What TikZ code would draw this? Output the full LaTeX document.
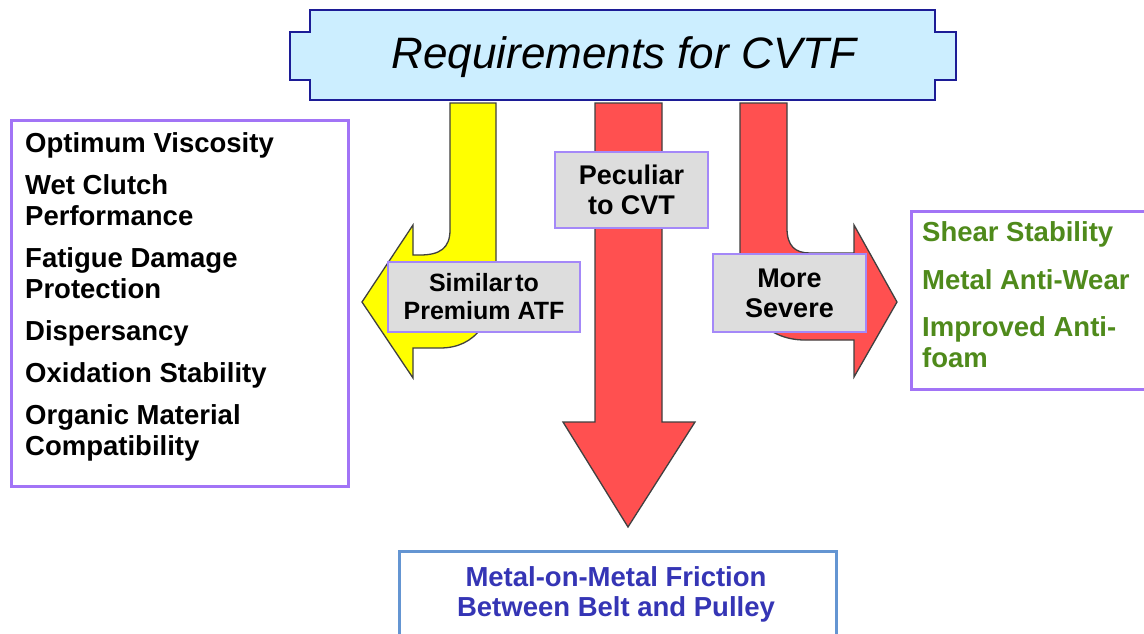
\documentclass[tikz,border=0pt]{standalone}
\usepackage{fontspec}
\setmainfont{Liberation Sans}
\usepackage{xcolor}
\usetikzlibrary{positioning, calc}

\definecolor{titlefill}{HTML}{CCEEFF}
\definecolor{titleline}{HTML}{1C1C96}
\definecolor{arrred}{HTML}{FF5050}
\definecolor{arryel}{HTML}{FFFF00}
\definecolor{lblgray}{HTML}{DDDDDD}
\definecolor{lilac}{HTML}{A488F8}
\definecolor{boxpurple}{HTML}{A274F6}
\definecolor{leafgreen}{HTML}{4F8A1B}
\definecolor{steel}{HTML}{6495D2}
\definecolor{inkblue}{HTML}{3535B5}

\begin{document}
\begin{tikzpicture}[x=1pt, y=-1pt,
  blk/.style={draw=black!75, line width=1.3pt, line join=miter},
  lbl/.style={rectangle, draw=lilac, line width=1.5pt, fill=lblgray,
              align=center, inner sep=0pt,
              font=\fontsize{27}{30}\selectfont\bfseries},
  grp/.style={rectangle, draw=boxpurple, line width=3pt, fill=white,
              inner sep=0pt},
  items/.style={align=left, inner sep=0pt, anchor=north west,
                font=\fontsize{27.5}{31}\selectfont\bfseries}
]

\useasboundingbox (0,0) rectangle (1144,633);
\clip (0,0) rectangle (1144,633);
\fill[white] (0,0) rectangle (1144,633);

%% ---- Side lists ----
\node[grp, minimum width=337pt, minimum height=366pt] (atfbox) at (180,303.5) {};
\node[items] (atflist) at (25,132) {Optimum Viscosity\\[11pt]
  Wet Clutch\\Performance\\[11pt]
  Fatigue Damage\\Protection\\[11pt]
  Dispersancy\\[11pt]
  Oxidation Stability\\[11pt]
  Organic Material\\Compatibility};

\node[grp, minimum width=260pt, minimum height=178pt, anchor=north west] (cvtbox) at (909.5,209.5) {};
\node[items, text=leafgreen] (cvtlist) at (922,221) {Shear Stability\\[17pt]
  Metal Anti-Wear\\[16pt]
  Improved Anti-\\foam};

%% ---- Block arrows ----
% left: yellow, bends to the ATF list
\draw[blk, fill=arryel] (450,103) -- (496,103) -- (496,268)
  .. controls (496,322) and (475,348) .. (440,348) -- (413,348)
  -- (413,378) -- (362,302) -- (413,225) -- (413,255) -- (420,255)
  .. controls (440,255) and (450,248) .. (450,230) -- cycle;

% middle: straight down to the friction box
\draw[blk, fill=arrred] (595,103) -- (662,103) -- (662,422) -- (695,422)
  -- (628,527) -- (563,422) -- (595,422) -- cycle;

% right: red, bends to the CVT list
\draw[blk, fill=arrred] (740,103) -- (787,103) -- (787,228)
  .. controls (787,246) and (795,253) .. (810,253) -- (854,253)
  -- (854,225) -- (897,302) -- (854,377) -- (854,340) -- (805,340)
  .. controls (765,340) and (740,310) .. (740,262) -- cycle;

%% ---- Arrow labels ----
\node[lbl, minimum width=153pt, minimum height=76pt] (peculiar) at (631.5,190) {Peculiar\\to CVT};
\node[lbl, minimum width=192pt, minimum height=70pt,
      font=\fontsize{25}{28}\selectfont\bfseries] (similar) at (484,297)
  {Similar\hspace{0.12em}to\\Premium ATF};
\node[lbl, minimum width=153pt, minimum height=78pt] (severe) at (789.5,293) {More\\Severe};

%% ---- Title banner ----
\draw[draw=titleline, line width=2pt, fill=titlefill]
  (310,10) -- (935,10) -- (935,32) -- (956,32) -- (956,80) -- (935,80)
  -- (935,100) -- (310,100) -- (310,80) -- (290,80) -- (290,32)
  -- (310,32) -- cycle;
\node[font=\fontsize{44}{48}\selectfont\itshape] (title) at (624,57) {Requirements for CVTF};

%% ---- Result box ----
\node[rectangle, draw=steel, line width=3pt, minimum width=437pt,
      minimum height=100pt, anchor=north west] (result) at (397.5,549.5) {};
\node[align=center, text=inkblue, inner sep=0pt,
      font=\fontsize{27.5}{30}\selectfont\bfseries] (resulttxt) at (616,594)
  {Metal-on-Metal Friction\\Between Belt and Pulley};

\end{tikzpicture}
\end{document}
